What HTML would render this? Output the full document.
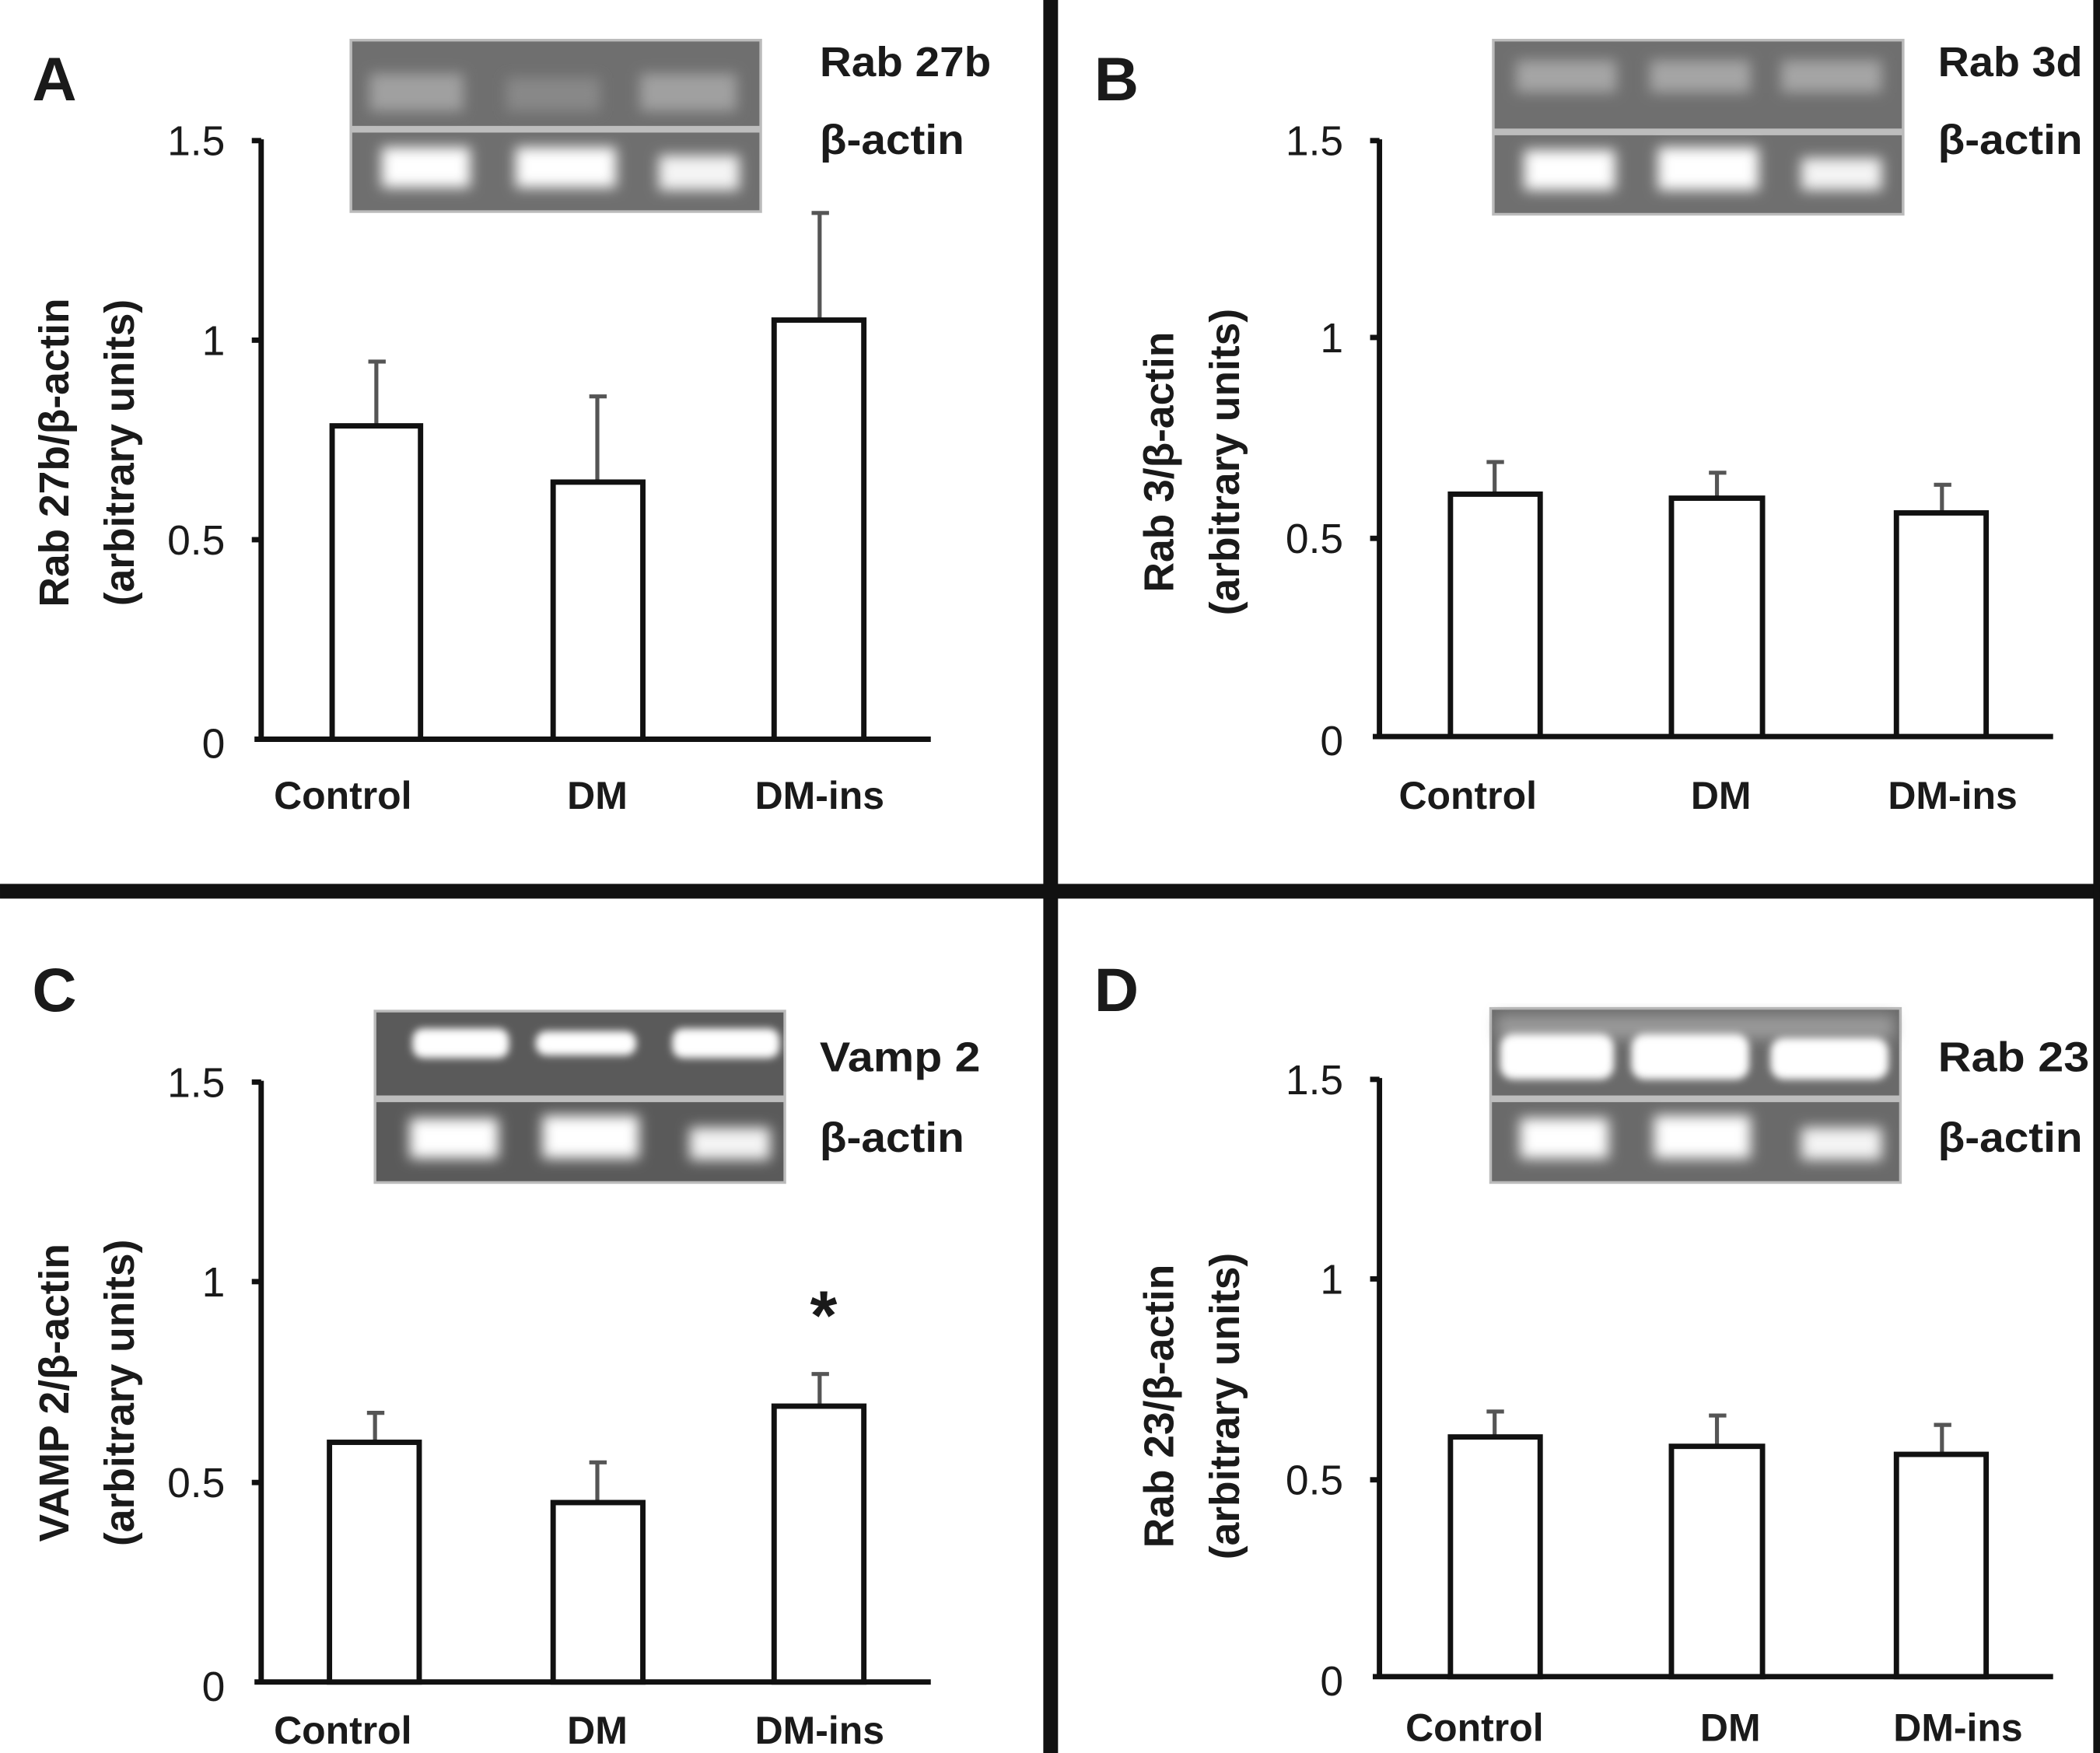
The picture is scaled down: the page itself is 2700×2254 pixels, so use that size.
<!DOCTYPE html>
<html><head><meta charset="utf-8"><style>
html,body{margin:0;padding:0;background:#fff}
svg{display:block}
text{font-family:"Liberation Sans",sans-serif;fill:#1a1a1a}
.t{font-size:31px;text-anchor:end}
.c{font-size:29px;font-weight:bold;text-anchor:middle}
.y{font-size:31px;font-weight:bold;text-anchor:middle}
.g{font-size:31px;font-weight:bold}
.L{font-size:46px;font-weight:bold}
</style></head><body>
<svg width="2700" height="2254" viewBox="0 0 1568 1309" xmlns="http://www.w3.org/2000/svg">
<defs>
<filter id="bl" x="-30%" y="-50%" width="160%" height="200%"><feGaussianBlur stdDeviation="5"/></filter>
<filter id="bl2" x="-30%" y="-50%" width="160%" height="200%"><feGaussianBlur stdDeviation="3"/></filter>
</defs>
<rect width="1568" height="1309" fill="#fff"/>
<rect x="779" y="0" width="11" height="1309" fill="#111"/>
<rect x="0" y="660" width="1568" height="11" fill="#111"/>
<rect x="1563" y="0" width="5" height="1309" fill="#111"/>

<g stroke="#111" fill="#fff">
<g stroke-width="4"><line x1="195" y1="104" x2="195" y2="553"/><line x1="190" y1="552" x2="695" y2="552"/>
<line x1="188" y1="105" x2="195" y2="105"/><line x1="188" y1="254" x2="195" y2="254"/><line x1="188" y1="403" x2="195" y2="403"/></g>
<g stroke="#555" stroke-width="3"><line x1="281" y1="318" x2="281" y2="270"/><line x1="275" y1="270" x2="288" y2="270"/>
<line x1="446" y1="360" x2="446" y2="296"/><line x1="440" y1="296" x2="453" y2="296"/>
<line x1="612" y1="239" x2="612" y2="159"/><line x1="606" y1="159" x2="619" y2="159"/></g>
<g stroke-width="4"><rect x="248" y="318" width="66" height="234"/><rect x="413" y="360" width="67" height="192"/><rect x="578" y="239" width="67" height="313"/></g>
<g stroke-width="4"><line x1="1030" y1="104" x2="1030" y2="551"/><line x1="1025" y1="550" x2="1533" y2="550"/>
<line x1="1023" y1="105" x2="1030" y2="105"/><line x1="1023" y1="252" x2="1030" y2="252"/><line x1="1023" y1="402" x2="1030" y2="402"/></g>
<g stroke="#555" stroke-width="3"><line x1="1116" y1="369" x2="1116" y2="345"/><line x1="1110" y1="345" x2="1123" y2="345"/>
<line x1="1282" y1="372" x2="1282" y2="353"/><line x1="1276" y1="353" x2="1289" y2="353"/>
<line x1="1450" y1="383" x2="1450" y2="362"/><line x1="1444" y1="362" x2="1457" y2="362"/></g>
<g stroke-width="4"><rect x="1083" y="369" width="67" height="181"/><rect x="1248" y="372" width="68" height="178"/><rect x="1416" y="383" width="67" height="167"/></g>
<g stroke-width="4"><line x1="195" y1="807" x2="195" y2="1257"/><line x1="190" y1="1256" x2="695" y2="1256"/>
<line x1="188" y1="808" x2="195" y2="808"/><line x1="188" y1="957" x2="195" y2="957"/><line x1="188" y1="1107" x2="195" y2="1107"/></g>
<g stroke="#555" stroke-width="3"><line x1="280" y1="1077" x2="280" y2="1055"/><line x1="274" y1="1055" x2="287" y2="1055"/>
<line x1="446" y1="1122" x2="446" y2="1092"/><line x1="440" y1="1092" x2="453" y2="1092"/>
<line x1="612" y1="1050" x2="612" y2="1026"/><line x1="606" y1="1026" x2="619" y2="1026"/></g>
<g stroke-width="4"><rect x="246" y="1077" width="67" height="179"/><rect x="413" y="1122" width="67" height="134"/><rect x="578" y="1050" width="67" height="206"/></g>
<g stroke-width="4"><line x1="1030" y1="805" x2="1030" y2="1253"/><line x1="1025" y1="1252" x2="1533" y2="1252"/>
<line x1="1023" y1="806" x2="1030" y2="806"/><line x1="1023" y1="955" x2="1030" y2="955"/><line x1="1023" y1="1105" x2="1030" y2="1105"/></g>
<g stroke="#555" stroke-width="3"><line x1="1116" y1="1073" x2="1116" y2="1054"/><line x1="1110" y1="1054" x2="1123" y2="1054"/>
<line x1="1282" y1="1080" x2="1282" y2="1057"/><line x1="1276" y1="1057" x2="1289" y2="1057"/>
<line x1="1450" y1="1086" x2="1450" y2="1064"/><line x1="1444" y1="1064" x2="1457" y2="1064"/></g>
<g stroke-width="4"><rect x="1083" y="1073" width="67" height="179"/><rect x="1248" y="1080" width="68" height="172"/><rect x="1416" y="1086" width="67" height="166"/></g>
</g>

<g>
<rect x="262" y="30" width="306" height="128" fill="#6f6f6f" stroke="#bbb" stroke-width="2"/>
<rect x="262" y="94" width="306" height="5" fill="#bdbdbd"/>
<g filter="url(#bl)"><rect x="276" y="55" width="70" height="28" fill="#a0a0a0"/><rect x="378" y="58" width="70" height="25" fill="#888"/><rect x="478" y="55" width="72" height="28" fill="#a0a0a0"/>
<rect x="285" y="110" width="66" height="30" fill="#fff"/><rect x="385" y="110" width="75" height="30" fill="#fff"/><rect x="492" y="116" width="60" height="26" fill="#f4f4f4"/></g>
<rect x="1115" y="30" width="306" height="130" fill="#6f6f6f" stroke="#bbb" stroke-width="2"/>
<rect x="1115" y="96" width="306" height="5" fill="#bdbdbd"/>
<g filter="url(#bl)"><rect x="1132" y="45" width="75" height="24" fill="#a5a5a5"/><rect x="1232" y="45" width="75" height="24" fill="#a5a5a5"/><rect x="1330" y="45" width="75" height="24" fill="#a5a5a5"/>
<rect x="1138" y="112" width="68" height="30" fill="#fff"/><rect x="1238" y="110" width="75" height="32" fill="#fff"/><rect x="1345" y="118" width="60" height="24" fill="#f4f4f4"/></g>
<rect x="280" y="755" width="306" height="128" fill="#5a5a5a" stroke="#bbb" stroke-width="2"/>
<rect x="280" y="818" width="306" height="5" fill="#bdbdbd"/>
<g filter="url(#bl2)"><rect x="308" y="768" width="72" height="22" rx="8" fill="#fff"/><rect x="400" y="770" width="75" height="18" rx="8" fill="#fff"/><rect x="502" y="768" width="80" height="22" rx="8" fill="#fff"/></g>
<g filter="url(#bl)"><rect x="306" y="835" width="66" height="30" fill="#fff"/><rect x="405" y="833" width="72" height="32" fill="#fff"/><rect x="515" y="842" width="60" height="24" fill="#f4f4f4"/></g>
<rect x="1113" y="753" width="306" height="130" fill="#6a6a6a" stroke="#bbb" stroke-width="2"/>
<rect x="1113" y="818" width="306" height="5" fill="#bdbdbd"/>
<g filter="url(#bl)"><rect x="1118" y="758" width="296" height="18" fill="#999"/></g>
<g filter="url(#bl2)"><rect x="1120" y="772" width="85" height="34" rx="10" fill="#fff"/><rect x="1218" y="772" width="88" height="34" rx="10" fill="#fff"/><rect x="1322" y="775" width="88" height="31" rx="10" fill="#fff"/></g>
<g filter="url(#bl)"><rect x="1135" y="835" width="66" height="30" fill="#fff"/><rect x="1235" y="833" width="72" height="32" fill="#fff"/><rect x="1345" y="842" width="60" height="24" fill="#f4f4f4"/></g>
</g>

<text class="L" x="24" y="75">A</text>
<text class="L" x="817" y="75">B</text>
<text class="L" x="24" y="755">C</text>
<text class="L" x="817" y="755">D</text>

<text class="g" x="612" y="57" textLength="128" lengthAdjust="spacingAndGlyphs">Rab 27b</text>
<text class="g" x="612" y="115" textLength="108" lengthAdjust="spacingAndGlyphs">β-actin</text>
<text class="g" x="1447" y="57" textLength="108" lengthAdjust="spacingAndGlyphs">Rab 3d</text>
<text class="g" x="1447" y="115" textLength="108" lengthAdjust="spacingAndGlyphs">β-actin</text>
<text class="g" x="612" y="800" textLength="120" lengthAdjust="spacingAndGlyphs">Vamp 2</text>
<text class="g" x="612" y="860" textLength="108" lengthAdjust="spacingAndGlyphs">β-actin</text>
<text class="g" x="1447" y="800" textLength="113" lengthAdjust="spacingAndGlyphs">Rab  23</text>
<text class="g" x="1447" y="860" textLength="108" lengthAdjust="spacingAndGlyphs">β-actin</text>

<text class="t" x="168" y="116">1.5</text><text class="t" x="168" y="265">1</text><text class="t" x="168" y="414">0.5</text><text class="t" x="168" y="566">0</text>
<text class="t" x="1003" y="116">1.5</text><text class="t" x="1003" y="263">1</text><text class="t" x="1003" y="413">0.5</text><text class="t" x="1003" y="564">0</text>
<text class="t" x="168" y="819">1.5</text><text class="t" x="168" y="968">1</text><text class="t" x="168" y="1118">0.5</text><text class="t" x="168" y="1270">0</text>
<text class="t" x="1003" y="817">1.5</text><text class="t" x="1003" y="966">1</text><text class="t" x="1003" y="1116">0.5</text><text class="t" x="1003" y="1266">0</text>

<text class="c" x="256" y="604">Control</text><text class="c" x="446" y="604">DM</text><text class="c" x="612" y="604">DM-ins</text>
<text class="c" x="1096" y="604">Control</text><text class="c" x="1285" y="604">DM</text><text class="c" x="1458" y="604">DM-ins</text>
<text class="c" x="256" y="1302">Control</text><text class="c" x="446" y="1302">DM</text><text class="c" x="612" y="1302">DM-ins</text>
<text class="c" x="1101" y="1300">Control</text><text class="c" x="1292" y="1300">DM</text><text class="c" x="1462" y="1300">DM-ins</text>

<text x="615" y="1000" style="font-size:52px;font-weight:bold;text-anchor:middle">*</text>

<text class="y" transform="translate(51,338) rotate(-90)">Rab 27b/β-actin</text>
<text class="y" transform="translate(100,338) rotate(-90)">(arbitrary units)</text>
<text class="y" transform="translate(876,345) rotate(-90)">Rab 3/β-actin</text>
<text class="y" transform="translate(925,345) rotate(-90)">(arbitrary units)</text>
<text class="y" transform="translate(51,1040) rotate(-90)">VAMP 2/β-actin</text>
<text class="y" transform="translate(100,1040) rotate(-90)">(arbitrary units)</text>
<text class="y" transform="translate(876,1050) rotate(-90)">Rab 23/β-actin</text>
<text class="y" transform="translate(925,1050) rotate(-90)">(arbitrary units)</text>
</svg>
</body></html>
